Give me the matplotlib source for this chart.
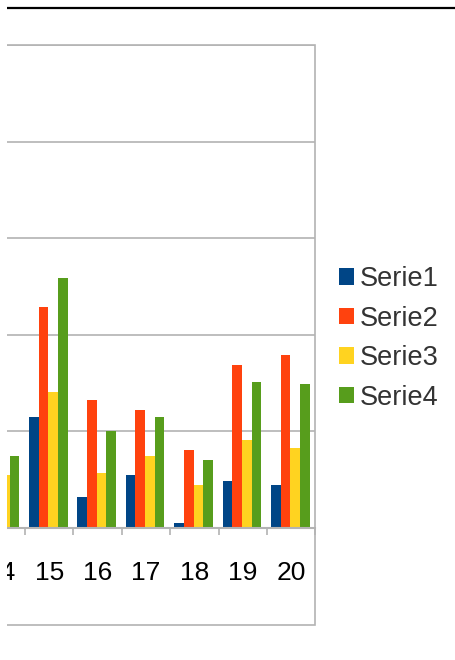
import matplotlib
matplotlib.use("Agg")
import matplotlib.pyplot as plt
from matplotlib.patches import Rectangle
from matplotlib.lines import Line2D
import numpy as np

categories = ["14", "15", "16", "17", "18", "19", "20"]
serie1 = [6.0, 11.5, 3.2, 5.5, 0.5, 4.9, 4.45]
serie2 = [12.0, 22.85, 13.25, 12.2, 8.05, 16.85, 17.9]
serie3 = [5.5, 14.05, 5.7, 7.45, 4.45, 9.1, 8.25]
serie4 = [7.45, 25.85, 10.05, 11.5, 7.05, 15.1, 14.9]
series_names = ["Serie1", "Serie2", "Serie3", "Serie4"]
colors = ["#004586", "#ff420e", "#ffd320", "#579d1c"]

plt.rcParams['font.family'] = ['Liberation Sans', 'DejaVu Sans']

W, H = 456, 660
fig = plt.figure(figsize=(W / 100, H / 100), dpi=100)

cat_w = 48.4
right_px = 315.5
left_px = right_px - len(categories) * cat_w
top_px, axis_px = 45, 528
ax = fig.add_axes([left_px / W, 1 - axis_px / H, (right_px - left_px) / W, (axis_px - top_px) / H])

x = np.arange(len(categories))
bw = 0.2
data = [serie1, serie2, serie3, serie4]
handles = []
for i, (vals, c, n) in enumerate(zip(data, colors, series_names)):
    b = ax.bar(x + (i - 1.5) * bw - 0.02, vals, width=bw, color=c, label=n, zorder=3)
    handles.append(b)

ax.set_xlim(-0.5, len(categories) - 0.5)
ax.set_ylim(0, 50)
ax.set_yticks([0, 10, 20, 30, 40, 50])
ax.yaxis.grid(True, color="#b3b3b3", linewidth=1.2, zorder=0)
ax.tick_params(axis='y', length=0, labelleft=False)
for s in ["left", "top", "right"]:
    ax.spines[s].set_visible(False)
ax.spines["bottom"].set_color("#b3b3b3")
ax.spines["bottom"].set_linewidth(1.5)
ax.spines["bottom"].set_zorder(4)

ax.set_xticks(x)
ax.set_xticklabels(categories, fontsize=19, color="#000000")
ax.tick_params(axis='x', which='major', length=0, pad=24)
ax.set_xticks(np.arange(len(categories) + 1) - 0.5, minor=True)
ax.tick_params(axis='x', which='minor', length=5, width=1.2, color="#b3b3b3", direction='out')

# outer frame
fig.add_artist(Rectangle((left_px / W, 1 - 625 / H), (right_px - left_px) / W, (625 - top_px) / H,
                         transform=fig.transFigure, fill=False, edgecolor="#b3b3b3", linewidth=1.2))
# top black line
fig.add_artist(Line2D([7 / W, 1], [1 - 8 / H, 1 - 8 / H], transform=fig.transFigure,
                      color="#000000", linewidth=1.6))
# white left margin
fig.add_artist(Rectangle((0, 0), 7 / W, 1, transform=fig.transFigure, facecolor="white",
                         edgecolor="none", zorder=10))

leg = fig.legend(handles=handles, labels=series_names, loc="upper left",
                 bbox_to_anchor=(339 / W, 1 - 266 / H), frameon=False, fontsize=19.5,
                 handlelength=0.55, handleheight=0.55, handletextpad=0.22, labelspacing=0.5,
                 borderaxespad=0, borderpad=0)
for t in leg.get_texts():
    t.set_color("#333333")

fig.savefig("out.png", dpi=100)
